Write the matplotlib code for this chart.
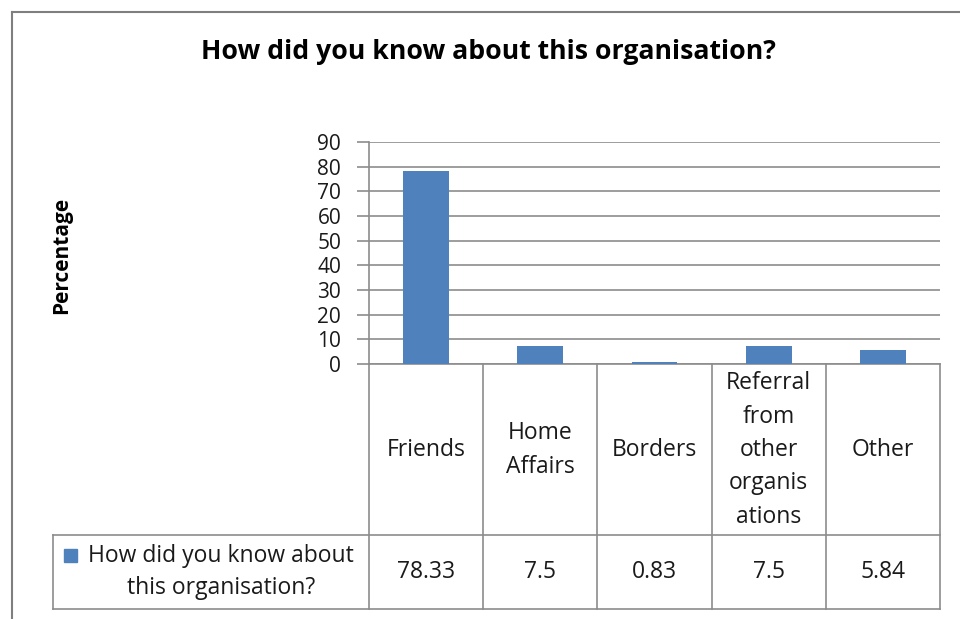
import matplotlib
matplotlib.use("Agg")
import matplotlib.pyplot as plt
from matplotlib.patches import Rectangle
from matplotlib.lines import Line2D
import matplotlib.transforms as mtransforms

categories = ["Friends", "Home\nAffairs", "Borders", "Referral\nfrom\nother\norganis\nations", "Other"]
values = [78.33, 7.5, 0.83, 7.5, 5.84]
value_labels = ["78.33", "7.5", "0.83", "7.5", "5.84"]
series_name = "How did you know about\nthis organisation?"
title = "How did you know about this organisation?"
ylabel = "Percentage"
yticks = [0, 10, 20, 30, 40, 50, 60, 70, 80, 90]

plt.rcParams['font.family'] = ['Open Sans', 'DejaVu Sans']

W, H = 960, 619
fig = plt.figure(figsize=(W / 100, H / 100), dpi=100)
fig.patch.set_facecolor("white")

GRID = "#8c8c8c"
BAR = "#4F81BD"
TXT = "#1a1a1a"
FS = 16.5

# outer border (chart area, cropped on right/bottom)
fig.add_artist(Line2D([12 / W, 1.0], [1 - 12 / H, 1 - 12 / H], color="#7f7f7f", lw=1.5))
fig.add_artist(Line2D([12 / W, 12 / W], [0, 1 - 12 / H], color="#7f7f7f", lw=1.5))

ax_l, ax_r, ax_t, ax_b = 369, 940, 142, 364
ax = fig.add_axes([ax_l / W, 1 - ax_b / H, (ax_r - ax_l) / W, (ax_b - ax_t) / H])
x = list(range(len(categories)))
ax.bar(x, values, width=0.4, color=BAR, zorder=3)
ax.set_xlim(-0.5, len(categories) - 0.5)
ax.set_ylim(0, 90)
ax.set_yticks(yticks)
ax.set_yticklabels([str(t) for t in yticks], fontsize=15, color=TXT)
ax.set_xticks([])
ax.yaxis.grid(True, color=GRID, lw=1.2, zorder=0)
for s in ["top", "right"]:
    ax.spines[s].set_visible(False)
ax.spines["left"].set_color(GRID)
ax.spines["bottom"].set_color(GRID)
ax.spines["left"].set_linewidth(1.2)
ax.spines["bottom"].set_linewidth(1.2)
ax.tick_params(axis="y", length=9, color=GRID, width=1.2, pad=11)

fig.text(488 / W, 1 - 52 / H, title, ha="center", va="center", fontsize=19.2, fontweight="bold", color="black")
fig.text(62 / W, 1 - 255 / H, ylabel, ha="center", va="center", rotation=90, fontsize=15, fontweight="bold", color="black")

# data table drawn in blended coords: x in data, y in axes fraction
tr = mtransforms.blended_transform_factory(ax.transData, ax.transAxes)
h = ax_b - ax_t
y_hdr = (ax_b - 535) / h
y_bot = (ax_b - 609) / h
x_leg = -0.5 + (53 - ax_l) / ((ax_r - ax_l) / len(categories))
n = len(categories)
lk = dict(color=GRID, lw=1.2, transform=tr, clip_on=False)
for i in range(n + 1):
    xb = i - 0.5
    ax.add_line(Line2D([xb, xb], [0, y_bot], **lk))
ax.add_line(Line2D([x_leg, n - 0.5], [y_hdr, y_hdr], **lk))
ax.add_line(Line2D([x_leg, n - 0.5], [y_bot, y_bot], **lk))
ax.add_line(Line2D([x_leg, x_leg], [y_hdr, y_bot], **lk))

y_hdr_mid = (ax_b - 450) / h
y_val_mid = (ax_b - 572) / h
for i, (c, v) in enumerate(zip(categories, value_labels)):
    ax.text(i, y_hdr_mid, c, ha="center", va="center", fontsize=FS, transform=tr,
            linespacing=1.52, color=TXT)
    ax.text(i, y_val_mid, v, ha="center", va="center", fontsize=FS, transform=tr, color=TXT)

# legend key in table
fig.add_artist(Rectangle((64 / W, 1 - 562 / H), 13 / W, 13 / H, color=BAR, transform=fig.transFigure))
fig.text(221 / W, 1 - 572 / H, series_name, ha="center", va="center", fontsize=FS,
         linespacing=1.45, color=TXT)

fig.savefig("out.png", dpi=100, facecolor="white")
